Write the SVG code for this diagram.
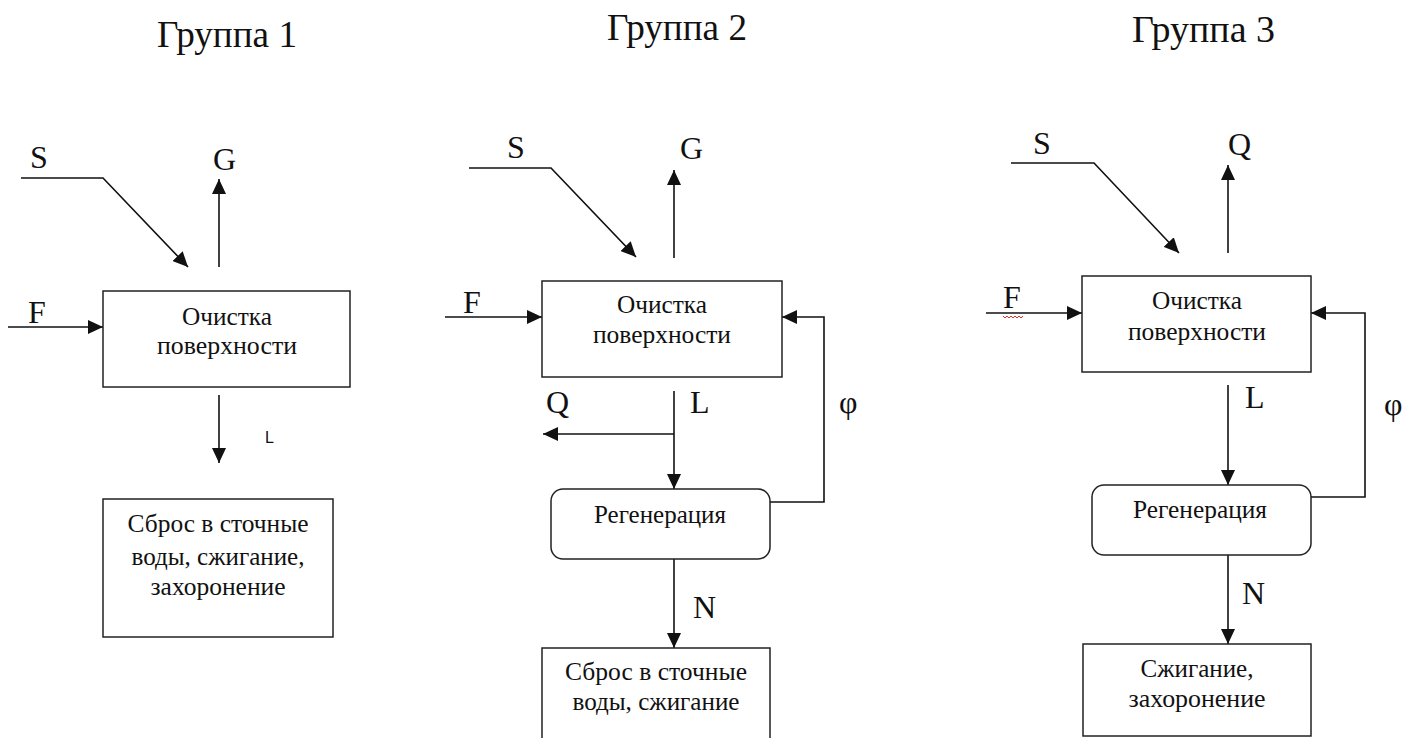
<svg xmlns="http://www.w3.org/2000/svg" width="1406" height="738" viewBox="0 0 1406 738">
  <style>
    .bg { fill: #ffffff; }
    .box { fill: #ffffff; stroke: #222222; stroke-width: 1.5; }
    .conn { fill: none; stroke: #111111; stroke-width: 1.6; }
    .arr { marker-end: url(#ah); }
    .title { font-family: "Liberation Serif", "DejaVu Serif", "Times New Roman", serif; font-size: 37px; fill: #111111; }
    .lbl { font-family: "Liberation Serif", "DejaVu Serif", "Times New Roman", serif; font-size: 32px; fill: #111111; }
    .lbls { font-family: "Liberation Sans", Arial, sans-serif; font-size: 16px; fill: #111111; }
    .txt { font-family: "Liberation Serif", "DejaVu Serif", "Times New Roman", serif; font-size: 25px; fill: #111111; text-anchor: middle; }
  </style>
  <defs>
    <marker id="ah" markerUnits="userSpaceOnUse" markerWidth="16" markerHeight="14" refX="15" refY="7" orient="auto">
      <path d="M0,0 L15,7 L0,14 z" fill="#111111"/>
    </marker>
  </defs>
  <rect class="bg" x="0" y="0" width="1406" height="738"/>

  <g id="titles">
    <text class="title" x="157" y="47" textLength="140" lengthAdjust="spacingAndGlyphs">Группа 1</text>
    <text class="title" x="607" y="40" textLength="140" lengthAdjust="spacingAndGlyphs">Группа 2</text>
    <text class="title" x="1132" y="42" textLength="143" lengthAdjust="spacingAndGlyphs">Группа 3</text>
  </g>

  <g id="connectors">
    <!-- Group 1 -->
    <polyline class="conn arr" points="21,178 103,178 188,267"/>
    <line class="conn arr" x1="219" y1="267" x2="219" y2="179"/>
    <line class="conn arr" x1="8" y1="327" x2="103" y2="327"/>
    <line class="conn arr" x1="219" y1="395" x2="219" y2="463"/>
    <!-- Group 2 -->
    <polyline class="conn arr" points="469,168 551,168 636,257"/>
    <line class="conn arr" x1="674" y1="258" x2="674" y2="170"/>
    <line class="conn arr" x1="445" y1="317" x2="542" y2="317"/>
    <line class="conn arr" x1="674" y1="391" x2="674" y2="489"/>
    <line class="conn arr" x1="674" y1="434" x2="543" y2="434"/>
    <polyline class="conn arr" points="770,502 824,502 824,317 782,317"/>
    <line class="conn arr" x1="674" y1="559" x2="674" y2="648"/>
    <!-- Group 3 -->
    <polyline class="conn arr" points="1011,163 1094,163 1179,253"/>
    <line class="conn arr" x1="1228" y1="253" x2="1228" y2="165"/>
    <line class="conn arr" x1="986" y1="313" x2="1082" y2="313"/>
    <line class="conn arr" x1="1228" y1="385" x2="1228" y2="485"/>
    <polyline class="conn arr" points="1311,497 1365,497 1365,313 1311,313"/>
    <line class="conn arr" x1="1228" y1="555" x2="1228" y2="644"/>
  </g>

  <g id="labels">
    <text class="lbl" x="30" y="168">S</text>
    <text class="lbl" x="213" y="170">G</text>
    <text class="lbl" x="28" y="323">F</text>
    <text class="lbls" x="265" y="443">L</text>

    <text class="lbl" x="507" y="158">S</text>
    <text class="lbl" x="680" y="159">G</text>
    <text class="lbl" x="546" y="413">Q</text>
    <text class="lbl" x="463" y="313">F</text>
    <text class="lbl" x="690" y="413">L</text>
    <text class="lbl" x="839" y="413">φ</text>
    <text class="lbl" x="693" y="618">N</text>

    <text class="lbl" x="1033" y="154">S</text>
    <text class="lbl" x="1228" y="155">Q</text>
    <text class="lbl" x="1003" y="308">F</text>
    <path d="M1003,316 l2,2 l2,-2 l2,2 l2,-2 l2,2 l2,-2 l2,2 l2,-2 l2,2 l2,-2" fill="none" stroke="#e0302a" stroke-width="1"/>
    <text class="lbl" x="1245" y="408">L</text>
    <text class="lbl" x="1384" y="415">φ</text>
    <text class="lbl" x="1242" y="604">N</text>
  </g>

  <g id="g1-process">
    <rect class="box" x="103" y="291" width="247" height="96"/>
    <text class="txt" x="227" y="325" textLength="90" lengthAdjust="spacingAndGlyphs">Очистка</text>
    <text class="txt" x="227" y="354" textLength="140" lengthAdjust="spacingAndGlyphs">поверхности</text>
  </g>
  <g id="g1-disposal">
    <rect class="box" x="103" y="499" width="230" height="138"/>
    <text class="txt" x="218" y="532" textLength="181" lengthAdjust="spacingAndGlyphs">Сброс в сточные</text>
    <text class="txt" x="218" y="565" textLength="173" lengthAdjust="spacingAndGlyphs">воды, сжигание,</text>
    <text class="txt" x="218" y="595" textLength="135" lengthAdjust="spacingAndGlyphs">захоронение</text>
  </g>

  <g id="g2-process">
    <rect class="box" x="542" y="281" width="240" height="96"/>
    <text class="txt" x="662" y="313" textLength="90" lengthAdjust="spacingAndGlyphs">Очистка</text>
    <text class="txt" x="662" y="343" textLength="138" lengthAdjust="spacingAndGlyphs">поверхности</text>
  </g>
  <g id="g2-regeneration">
    <rect class="box" x="551" y="489" width="219" height="70" rx="12" ry="12"/>
    <text class="txt" x="660" y="523" textLength="132" lengthAdjust="spacingAndGlyphs">Регенерация</text>
  </g>
  <g id="g2-disposal">
    <rect class="box" x="542" y="648" width="228" height="100"/>
    <text class="txt" x="656" y="680" textLength="182" lengthAdjust="spacingAndGlyphs">Сброс в сточные</text>
    <text class="txt" x="656" y="710" textLength="167" lengthAdjust="spacingAndGlyphs">воды, сжигание</text>
  </g>

  <g id="g3-process">
    <rect class="box" x="1082" y="276" width="229" height="96"/>
    <text class="txt" x="1197" y="309" textLength="90" lengthAdjust="spacingAndGlyphs">Очистка</text>
    <text class="txt" x="1197" y="340" textLength="138" lengthAdjust="spacingAndGlyphs">поверхности</text>
  </g>
  <g id="g3-regeneration">
    <rect class="box" x="1092" y="485" width="219" height="70" rx="12" ry="12"/>
    <text class="txt" x="1200" y="518" textLength="134" lengthAdjust="spacingAndGlyphs">Регенерация</text>
  </g>
  <g id="g3-disposal">
    <rect class="box" x="1083" y="644" width="228" height="92"/>
    <text class="txt" x="1197" y="677" textLength="113" lengthAdjust="spacingAndGlyphs">Сжигание,</text>
    <text class="txt" x="1197" y="707" textLength="137" lengthAdjust="spacingAndGlyphs">захоронение</text>
  </g>
</svg>
